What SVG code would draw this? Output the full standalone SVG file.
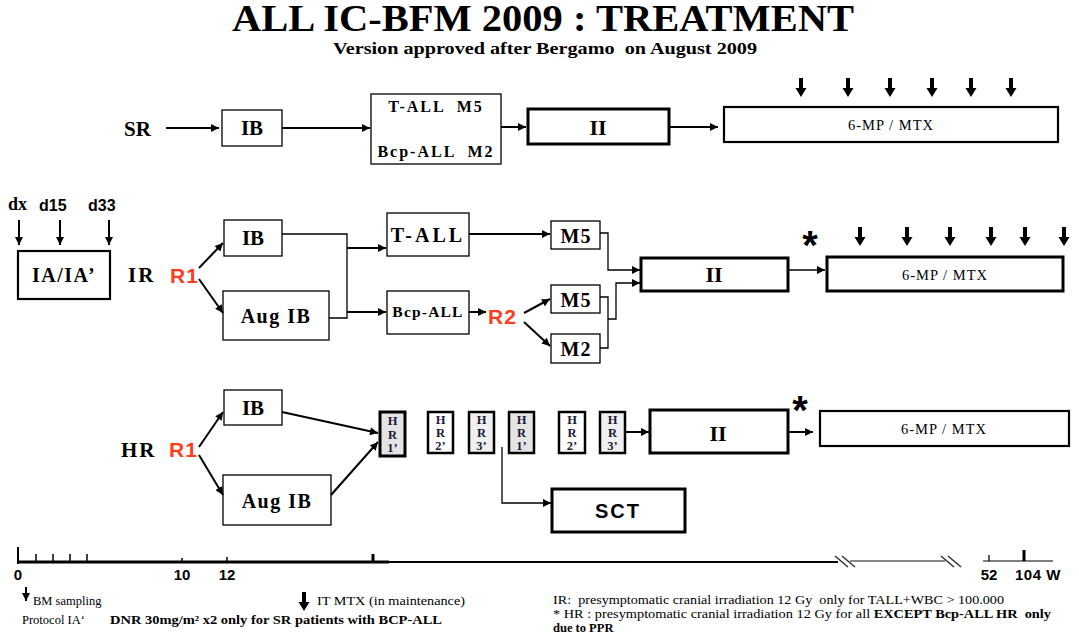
<svg xmlns="http://www.w3.org/2000/svg" width="1079" height="637" viewBox="0 0 1079 637">
<style>
text{white-space:pre}
.box{fill:#fff;stroke:#000;stroke-width:1.3}
.tbox{fill:#fff;stroke:#000;stroke-width:3}
.mbox{fill:#fff;stroke:#000;stroke-width:2.2}
.lbl{font-family:"Liberation Serif","Times New Roman",serif;font-weight:bold;text-anchor:middle;fill:#000}
.reg{font-family:"Liberation Serif","Times New Roman",serif;fill:#000}
.sans{font-family:"Liberation Sans",Arial,sans-serif;font-weight:bold;fill:#000}
.red{font-family:"Liberation Sans",Arial,sans-serif;font-weight:bold;fill:#ff3c1e;letter-spacing:1px}
.con{fill:none;stroke:#000;stroke-width:2}
.thin{fill:none;stroke:#000;stroke-width:1.3}
.hr{font-family:"Liberation Serif","Times New Roman",serif;font-weight:bold;font-size:12.5px;text-anchor:middle;fill:#1a1a3a}
.mtx{font-family:"Liberation Serif","Times New Roman",serif;font-size:14.5px;text-anchor:middle;letter-spacing:1px;fill:#000}
.star{font-family:"Liberation Sans",Arial,sans-serif;font-weight:bold;font-size:40px;text-anchor:middle;fill:#000}
</style>
<defs>
<marker id="ah" viewBox="0 0 10 10" refX="10" refY="5" markerWidth="9" markerHeight="8" markerUnits="userSpaceOnUse" orient="auto">
<path d="M0,0 L10,5 L0,10 z" fill="#000"/>
</marker>
<path id="darr" d="M-2,0 H2 V10 H5.5 L0,19 L-5.5,10 H-2 Z" fill="#000"/>
</defs>
<rect width="1079" height="637" fill="#fff"/>

<g id="title">
<text x="543" y="31" class="lbl" font-size="37" textLength="622" lengthAdjust="spacingAndGlyphs">ALL IC-BFM 2009 : TREATMENT</text>
<text x="545" y="54" class="lbl" font-size="16" textLength="424" lengthAdjust="spacingAndGlyphs">Version approved after Bergamo  on August 2009</text>
</g>

<!-- SR row -->
<g id="sr-label"><text x="124" y="136" class="reg" font-weight="bold" font-size="21">SR</text></g>
<g id="sr-ib"><rect x="222" y="110" width="60" height="36" class="box"/><text x="252" y="135" class="lbl" font-size="21">IB</text></g>
<g id="sr-m"><rect x="371" y="94" width="130" height="70" class="box"/>
<text x="436" y="112" class="lbl" font-size="16" letter-spacing="2">T-ALL  M5</text>
<text x="436" y="157" class="lbl" font-size="16" letter-spacing="2">Bcp-ALL  M2</text></g>
<g id="sr-ii"><rect x="528" y="109" width="141" height="35" class="tbox"/><text x="598" y="135" class="lbl" font-size="22">II</text></g>
<g id="sr-mtx"><rect x="724" y="107" width="334" height="35" class="mbox"/><text x="891" y="130" class="mtx">6-MP / MTX</text></g>
<g id="sr-itmtx">
<use href="#darr" x="801" y="78"/><use href="#darr" x="848" y="78"/><use href="#darr" x="890" y="78"/>
<use href="#darr" x="932" y="78"/><use href="#darr" x="971" y="78"/><use href="#darr" x="1011" y="78"/>
</g>

<!-- IR section -->
<g id="days">
<text x="8" y="210" class="reg" font-weight="bold" font-size="18">dx</text>
<text x="39" y="211" class="sans" font-size="16">d15</text>
<text x="88" y="211" class="sans" font-size="16">d33</text>
</g>
<g id="ia"><rect x="18" y="251" width="92" height="48" class="mbox"/><text x="64" y="282" class="lbl" font-size="20" letter-spacing="1.5">IA/IA’</text></g>
<g id="ir-label"><text x="128" y="282" class="reg" font-weight="bold" font-size="21" letter-spacing="2">IR</text></g>
<g id="ir-r1"><text x="170" y="283" class="red" font-size="21">R1</text></g>
<g id="ir-ib"><rect x="224" y="220" width="58" height="36" class="box"/><text x="253" y="245" class="lbl" font-size="21">IB</text></g>
<g id="ir-augib"><rect x="223" y="291" width="106" height="49" class="box"/><text x="276" y="323" class="lbl" font-size="20" letter-spacing="1.5">Aug IB</text></g>
<g id="ir-tall"><rect x="387" y="213" width="82" height="43" class="box"/><text x="428" y="242" class="lbl" font-size="20" letter-spacing="3">T-ALL</text></g>
<g id="ir-bcp"><rect x="387" y="291" width="82" height="43" class="box"/><text x="428" y="317" class="lbl" font-size="15.5" letter-spacing="1.2">Bcp-ALL</text></g>
<g id="ir-r2"><text x="488" y="324" class="red" font-size="21">R2</text></g>
<g id="ir-m5a"><rect x="551" y="221" width="49" height="28" class="box"/><text x="576" y="243" class="lbl" font-size="20" letter-spacing="1">M5</text></g>
<g id="ir-m5b"><rect x="551" y="285" width="49" height="28" class="box"/><text x="576" y="307" class="lbl" font-size="20" letter-spacing="1">M5</text></g>
<g id="ir-m2"><rect x="551" y="334" width="49" height="29" class="box"/><text x="576" y="356" class="lbl" font-size="20" letter-spacing="1">M2</text></g>
<g id="ir-ii"><rect x="641" y="258" width="147" height="33" class="tbox"/><text x="714" y="282" class="lbl" font-size="22">II</text></g>
<g id="ir-star"><text x="810" y="259" class="star">*</text></g>
<g id="ir-mtx"><rect x="827" y="257" width="236" height="34" class="tbox"/><text x="945" y="280" class="mtx">6-MP / MTX</text></g>
<g id="ir-itmtx">
<use href="#darr" x="860" y="227"/><use href="#darr" x="907" y="227"/><use href="#darr" x="950" y="227"/>
<use href="#darr" x="991" y="227"/><use href="#darr" x="1025" y="227"/><use href="#darr" x="1064" y="227"/>
</g>

<!-- HR section -->
<g id="hr-label"><text x="121" y="457" class="reg" font-weight="bold" font-size="21" letter-spacing="2">HR</text></g>
<g id="hr-r1"><text x="169" y="457" class="red" font-size="21">R1</text></g>
<g id="hr-ib"><rect x="224" y="390" width="58" height="35" class="box"/><text x="253" y="415" class="lbl" font-size="21">IB</text></g>
<g id="hr-augib"><rect x="223" y="475" width="108" height="50" class="box"/><text x="277" y="508" class="lbl" font-size="20" letter-spacing="1.5">Aug IB</text></g>
<g id="hr1a"><rect x="380" y="412" width="25" height="44" fill="#e4e4e4" stroke="#000" stroke-width="3"/>
<text x="392.5" y="425" class="hr">H</text><text x="392.5" y="439" class="hr">R</text><text x="392.5" y="452" class="hr">1’</text></g>
<g id="hr2a"><rect x="428" y="412" width="25" height="41" fill="#fff" stroke="#000" stroke-width="2.5"/>
<text x="440.5" y="424" class="hr">H</text><text x="440.5" y="437" class="hr">R</text><text x="440.5" y="450" class="hr">2’</text></g>
<g id="hr3a"><rect x="469" y="412" width="25" height="41" fill="#f0f0f0" stroke="#000" stroke-width="2.5"/>
<text x="481.5" y="424" class="hr">H</text><text x="481.5" y="437" class="hr">R</text><text x="481.5" y="450" class="hr">3’</text></g>
<g id="hr1b"><rect x="509" y="412" width="25" height="41" fill="#e4e4e4" stroke="#000" stroke-width="2.5"/>
<text x="521.5" y="424" class="hr">H</text><text x="521.5" y="437" class="hr">R</text><text x="521.5" y="450" class="hr">1’</text></g>
<g id="hr2b"><rect x="559" y="412" width="26" height="41" fill="#fff" stroke="#000" stroke-width="2.5"/>
<text x="572" y="424" class="hr">H</text><text x="572" y="437" class="hr">R</text><text x="572" y="450" class="hr">2’</text></g>
<g id="hr3b"><rect x="600" y="412" width="25" height="41" fill="#f0f0f0" stroke="#000" stroke-width="2.5"/>
<text x="612.5" y="424" class="hr">H</text><text x="612.5" y="437" class="hr">R</text><text x="612.5" y="450" class="hr">3’</text></g>
<g id="hr-ii"><rect x="650" y="410" width="138" height="43" class="tbox"/><text x="718" y="441" class="lbl" font-size="22">II</text></g>
<g id="hr-star"><text x="800" y="424" class="star">*</text></g>
<g id="hr-mtx"><rect x="820" y="411" width="249" height="35" class="mbox"/><text x="944" y="434" class="mtx">6-MP / MTX</text></g>
<g id="hr-sct"><rect x="552" y="489" width="133" height="43" class="tbox"/><text x="618" y="518" class="sans" font-size="20" text-anchor="middle" letter-spacing="2">SCT</text></g>

<!-- connectors -->
<g id="connectors">
<line x1="166" y1="128" x2="219" y2="128" class="con" marker-end="url(#ah)"/>
<line x1="282" y1="128" x2="370" y2="128" class="con" marker-end="url(#ah)"/>
<line x1="501" y1="127" x2="526" y2="127" class="con" marker-end="url(#ah)"/>
<line x1="669" y1="127" x2="718" y2="127" class="con" marker-end="url(#ah)"/>

<line x1="19" y1="220" x2="19" y2="245" class="con" marker-end="url(#ah)"/>
<line x1="60" y1="220" x2="60" y2="245" class="con" marker-end="url(#ah)"/>
<line x1="109" y1="220" x2="109" y2="245" class="con" marker-end="url(#ah)"/>

<line x1="199" y1="268" x2="223" y2="243" class="con" marker-end="url(#ah)"/>
<line x1="199" y1="279" x2="223" y2="313" class="con" marker-end="url(#ah)"/>
<polyline points="282,234 347,234 347,318 329,318" class="thin"/>
<line x1="347" y1="248" x2="386" y2="248" class="con" marker-end="url(#ah)"/>
<line x1="347" y1="312" x2="386" y2="312" class="con" marker-end="url(#ah)"/>
<line x1="469" y1="234" x2="550" y2="234" class="con" marker-end="url(#ah)"/>
<line x1="469" y1="312" x2="486" y2="312" class="con" marker-end="url(#ah)"/>
<line x1="524" y1="313" x2="550" y2="299" class="con" marker-end="url(#ah)"/>
<line x1="524" y1="322" x2="550" y2="346" class="con" marker-end="url(#ah)"/>
<polyline points="600,233 608,233 608,270 640,270" class="thin" marker-end="url(#ah)"/>
<polyline points="600,297 608,297 608,348 600,348" class="thin"/>
<polyline points="608,319 616,319 616,283 640,283" class="thin" marker-end="url(#ah)"/>
<line x1="788" y1="270" x2="825" y2="270" class="thin" stroke-width="1.6" marker-end="url(#ah)"/>

<line x1="199" y1="447" x2="223" y2="412" class="con" marker-end="url(#ah)"/>
<line x1="199" y1="455" x2="223" y2="495" class="con" marker-end="url(#ah)"/>
<line x1="282" y1="412" x2="378" y2="433" class="con" marker-end="url(#ah)"/>
<line x1="331" y1="495" x2="378" y2="442" class="con" marker-end="url(#ah)"/>
<polyline points="502,447 502,503 551,503" class="thin" marker-end="url(#ah)"/>
<line x1="625" y1="432" x2="649" y2="432" class="con" marker-end="url(#ah)"/>
<line x1="788" y1="432" x2="813" y2="432" class="con" marker-end="url(#ah)"/>
</g>

<!-- timeline -->
<g id="timeline">
<line x1="18" y1="547" x2="18" y2="564" stroke="#000" stroke-width="2"/>
<line x1="18" y1="562" x2="389" y2="562" stroke="#000" stroke-width="3"/>
<line x1="389" y1="562" x2="838" y2="562" stroke="#000" stroke-width="2"/>
<g stroke="#000" stroke-width="1.5">
<line x1="36" y1="554" x2="36" y2="562"/><line x1="53" y1="554" x2="53" y2="562"/>
<line x1="70" y1="554" x2="70" y2="562"/><line x1="87" y1="554" x2="87" y2="562"/>
<line x1="182" y1="558" x2="182" y2="562"/><line x1="227" y1="557" x2="227" y2="562"/>
</g>
<line x1="373" y1="554" x2="373" y2="562" stroke="#000" stroke-width="3"/>
<g stroke="#333" stroke-width="1.5">
<line x1="835" y1="556" x2="848" y2="567"/><line x1="842" y1="556" x2="855" y2="567"/>
<line x1="941" y1="556" x2="954" y2="567"/><line x1="948" y1="556" x2="961" y2="567"/>
</g>
<line x1="850" y1="561" x2="945" y2="561" stroke="#888" stroke-width="2"/>
<line x1="983" y1="561" x2="1053" y2="561" stroke="#555" stroke-width="1.5"/>
<line x1="989" y1="555" x2="989" y2="561" stroke="#000" stroke-width="1.3"/>
<line x1="1024" y1="550" x2="1024" y2="561" stroke="#000" stroke-width="3"/>
<text x="18" y="580" class="sans" font-size="15" text-anchor="middle">0</text>
<text x="182" y="580" class="sans" font-size="15" text-anchor="middle">10</text>
<text x="227" y="580" class="sans" font-size="15" text-anchor="middle">12</text>
<text x="989" y="580" class="sans" font-size="15" text-anchor="middle">52</text>
<text x="1015" y="580" class="sans" font-size="15" letter-spacing="0.5">104 W</text>
</g>

<!-- legend -->
<g id="legend">
<line x1="26" y1="587" x2="26" y2="601" stroke="#000" stroke-width="2" marker-end="url(#ah)"/>
<text x="33" y="605" class="reg" font-size="12.5">BM sampling</text>
<use href="#darr" x="304" y="592"/>
<text x="317" y="605" class="reg" font-size="12.5" textLength="148" lengthAdjust="spacingAndGlyphs">IT MTX (in maintenance)</text>
<text x="22" y="624" class="reg" font-size="12.5">Protocol IA‘</text>
<text x="110" y="624" class="reg" font-weight="bold" font-size="12.5" textLength="332" lengthAdjust="spacingAndGlyphs">DNR 30mg/m² x2 only for SR patients with BCP-ALL</text>
<text x="553" y="604" class="reg" font-size="12.5" textLength="451" lengthAdjust="spacingAndGlyphs">IR:  presymptomatic cranial irradiation 12 Gy  only for TALL+WBC &gt; 100.000</text>
<text x="553" y="618" class="reg" font-size="12.5" textLength="498" lengthAdjust="spacingAndGlyphs">* HR : presymptomatic cranial irradiation 12 Gy for all <tspan font-weight="bold">EXCEPT Bcp-ALL HR  only</tspan></text>
<text x="553" y="632" class="reg" font-weight="bold" font-size="12.5">due to PPR</text>
</g>
</svg>
